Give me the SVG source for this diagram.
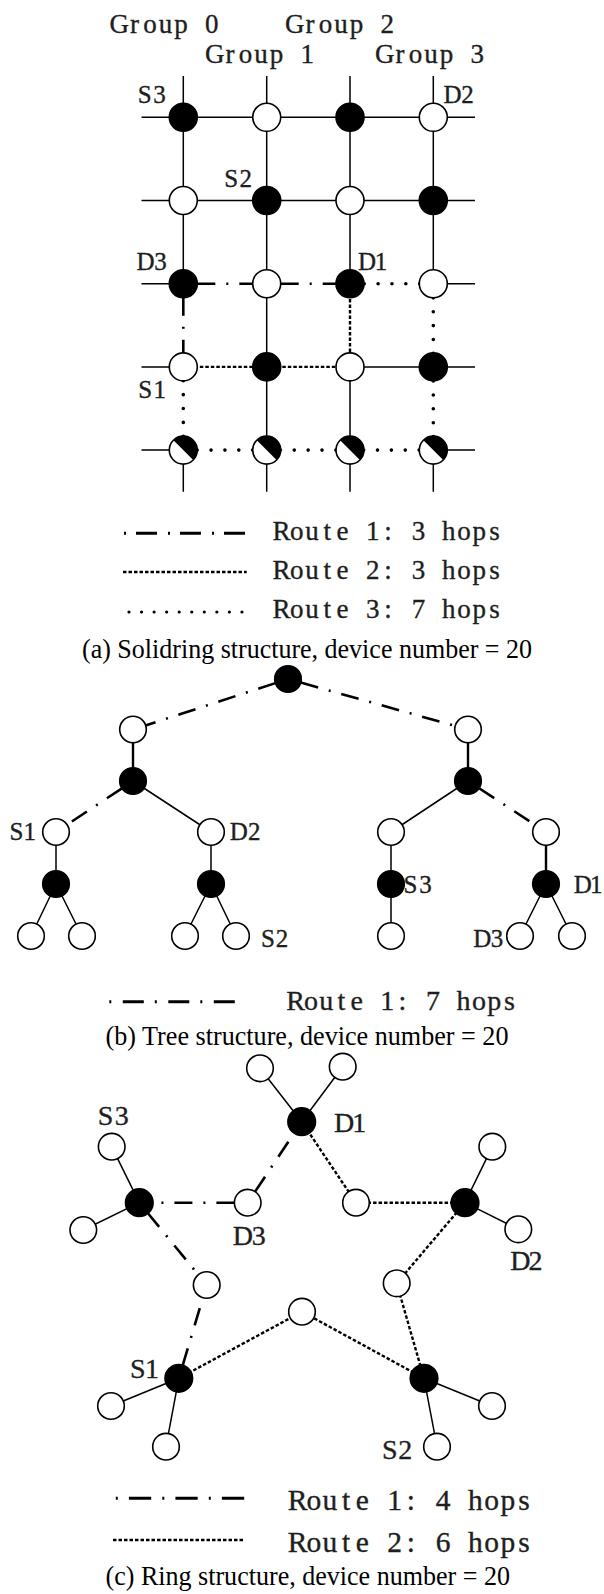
<svg xmlns="http://www.w3.org/2000/svg" xmlns:xlink="http://www.w3.org/1999/xlink" width="604" height="1594" viewBox="0 0 604 1594">
  <style>
    .ln { stroke: #000; stroke-width: 1.5; fill: none; }
    .thick { stroke: #000; stroke-width: 2.4; fill: none; }
    .r1 { stroke: #000; stroke-width: 2.6; fill: none; stroke-dasharray: 18 11 2 11; }
    .r1g { stroke-dashoffset: -14; }
    .r1t { stroke-dashoffset: -13.3; }
    .r2 { stroke: #000; stroke-width: 2.4; fill: none; stroke-dasharray: 3.5 2; }
    .r3 { stroke: #000; stroke-width: 3.6; fill: none; stroke-linecap: round; stroke-dasharray: 0 13.87; }
    .nw { fill: #fff; stroke: #000; stroke-width: 1.6; }
    .nb { fill: #000; stroke: #000; stroke-width: 1.6; }
    /* fixed-pitch serif lettering: one glyph per cell, centred on the cell */
    .mt { font-family: "Liberation Serif", "Times New Roman", serif; text-anchor: middle; fill: #1e1e1e; stroke: #1e1e1e; stroke-width: 0.35; }
    .cap { font-family: "Liberation Serif", "Times New Roman", serif; font-size: 27px; fill: #000; }
  </style>
  <defs>
    <!-- grid device whose upper-right half is filled -->
    <g id="half">
      <circle r="14" fill="#fff"/>
      <path d="M-9.9,-9.9 A14,14 0 0 1 9.9,9.9 Z" fill="#000"/>
      <circle r="14" fill="none" stroke="#000" stroke-width="1.6"/>
    </g>
  </defs>

  <!-- ===================== (a) Solidring ===================== -->
  <g id="group-labels">
    <text class="mt" font-size="27" y="33.3" x="119.2 134.6 150.1 165.5 180.9 196.4 211.8">Group 0</text>
    <text class="mt" font-size="27" y="33.3" x="294.7 310.1 325.6 341.0 356.4 371.9 387.3">Group 2</text>
    <text class="mt" font-size="27" y="63.3" x="214.7 230.1 245.6 261.0 276.4 291.9 307.3">Group 1</text>
    <text class="mt" font-size="27" y="63.3" x="384.7 400.1 415.6 431.0 446.4 461.9 477.3">Group 3</text>
  </g>

  <g id="grid-connectors">
    <!-- plain links -->
    <path class="ln" d="M141.5,117.3 H475 M141.5,200.5 H475
      M141.5,283.7 H183.3 M433.3,283.7 H475
      M141.5,366.9 H183.3 M350,366.9 H475
      M141.5,450.1 H183.3 M433.3,450.1 H475
      M183.3,76 V283.7 M183.3,450.1 V491.7
      M266.7,76 V491.7
      M350,76 V283.7 M350,366.9 V491.7
      M433.3,76 V283.7 M433.3,450.1 V491.7"/>
    <!-- route 1 -->
    <line class="r1 r1g" x1="183.3" y1="283.7" x2="266.7" y2="283.7"/>
    <line class="r1 r1g" x1="266.7" y1="283.7" x2="350" y2="283.7"/>
    <line class="r1 r1g" x1="183.3" y1="283.7" x2="183.3" y2="366.9"/>
    <!-- route 2 -->
    <polyline class="r2" points="183.3,366.9 350,366.9 350,283.7"/>
    <!-- route 3 -->
    <polyline class="r3" points="183.3,366.9 183.3,450.1 433.3,450.1 433.3,283.7 350,283.7"/>
  </g>

  <g id="grid-nodes">
    <circle class="nb" cx="183.3" cy="117.3" r="14"/>
    <circle class="nw" cx="266.7" cy="117.3" r="14"/>
    <circle class="nb" cx="350" cy="117.3" r="14"/>
    <circle class="nw" cx="433.3" cy="117.3" r="14"/>
    <circle class="nw" cx="183.3" cy="200.5" r="14"/>
    <circle class="nb" cx="266.7" cy="200.5" r="14"/>
    <circle class="nw" cx="350" cy="200.5" r="14"/>
    <circle class="nb" cx="433.3" cy="200.5" r="14"/>
    <circle class="nb" cx="183.3" cy="283.7" r="14"/>
    <circle class="nw" cx="266.7" cy="283.7" r="14"/>
    <circle class="nb" cx="350" cy="283.7" r="14"/>
    <circle class="nw" cx="433.3" cy="283.7" r="14"/>
    <circle class="nw" cx="183.3" cy="366.9" r="14"/>
    <circle class="nb" cx="266.7" cy="366.9" r="14"/>
    <circle class="nw" cx="350" cy="366.9" r="14"/>
    <circle class="nb" cx="433.3" cy="366.9" r="14"/>
    <use xlink:href="#half" x="183.3" y="450.1"/>
    <use xlink:href="#half" x="266.7" y="450.1"/>
    <use xlink:href="#half" x="350" y="450.1"/>
    <use xlink:href="#half" x="433.3" y="450.1"/>
  </g>

  <g id="grid-labels">
    <text class="mt" font-size="25" y="103" x="144.6 159.4">S3</text>
    <text class="mt" font-size="25" y="103" x="452.5 467.5">D2</text>
    <text class="mt" font-size="25" y="186.7" x="231.2 245.8">S2</text>
    <text class="mt" font-size="25" y="270" x="145.5 160.5">D3</text>
    <text class="mt" font-size="25" y="270" x="367 381">D1</text>
    <text class="mt" font-size="25" y="398" x="145.2 159.8">S1</text>
  </g>

  <g id="legend-a">
    <line x1="124" y1="533.3" x2="247" y2="533.3" stroke="#000" stroke-width="3" stroke-dasharray="2 10 21 11"/>
    <line x1="123" y1="572" x2="246.7" y2="572" class="r2"/>
    <line x1="129" y1="612" x2="242" y2="612" stroke="#000" stroke-width="3.2" stroke-linecap="round" stroke-dasharray="0 12.55"/>
    <text class="mt" font-size="27" y="540" x="281.6 296.8 312.0 327.2 342.4 357.6 372.8 388.0 403.2 418.4 433.6 448.8 464.0 479.2 494.4">Route 1: 3 hops</text>
    <text class="mt" font-size="27" y="578.5" x="281.6 296.8 312.0 327.2 342.4 357.6 372.8 388.0 403.2 418.4 433.6 448.8 464.0 479.2 494.4">Route 2: 3 hops</text>
    <text class="mt" font-size="27" y="618" x="281.6 296.8 312.0 327.2 342.4 357.6 372.8 388.0 403.2 418.4 433.6 448.8 464.0 479.2 494.4">Route 3: 7 hops</text>
  </g>
  <text id="caption-a" class="cap" x="82" y="658" textLength="450" lengthAdjust="spacingAndGlyphs">(a) Solidring structure, device number = 20</text>

  <!-- ===================== (b) Tree ===================== -->
  <g id="tree-connectors">
    <path class="ln" d="M133,781 L211,832 M468,781 L391,832
      M56,832 V884 M211,832 V884 M391,832 V884
      M56,884 L31,936 M56,884 L82,936
      M211,884 L185,936 M211,884 L236,936
      M391,884 V936
      M546,884 L520,936 M546,884 L572,936"/>
    <path class="thick" d="M133,729.5 V781 M468,729.5 V781 M546,832 V884"/>
    <line class="r1 r1t" x1="288" y1="679" x2="133" y2="729.5"/>
    <line class="r1 r1t" x1="288" y1="679" x2="468" y2="729.5"/>
    <line class="r1 r1t" x1="133" y1="781" x2="56" y2="832"/>
    <line class="r1 r1t" x1="468" y1="781" x2="546" y2="832"/>
  </g>

  <g id="tree-nodes">
    <circle class="nb" cx="288" cy="679" r="13.3"/>
    <circle class="nw" cx="133" cy="729.5" r="13.3"/>
    <circle class="nw" cx="468" cy="729.5" r="13.3"/>
    <circle class="nb" cx="133" cy="781" r="13.3"/>
    <circle class="nb" cx="468" cy="781" r="13.3"/>
    <circle class="nw" cx="56" cy="832" r="13.3"/>
    <circle class="nw" cx="211" cy="832" r="13.3"/>
    <circle class="nw" cx="391" cy="832" r="13.3"/>
    <circle class="nw" cx="546" cy="832" r="13.3"/>
    <circle class="nb" cx="56" cy="884" r="13.3"/>
    <circle class="nb" cx="211" cy="884" r="13.3"/>
    <circle class="nb" cx="391" cy="884" r="13.3"/>
    <circle class="nb" cx="546" cy="884" r="13.3"/>
    <circle class="nw" cx="31" cy="936" r="13.3"/>
    <circle class="nw" cx="82" cy="936" r="13.3"/>
    <circle class="nw" cx="185" cy="936" r="13.3"/>
    <circle class="nw" cx="236" cy="936" r="13.3"/>
    <circle class="nw" cx="391" cy="936" r="13.3"/>
    <circle class="nw" cx="520" cy="936" r="13.3"/>
    <circle class="nw" cx="572" cy="936" r="13.3"/>
  </g>

  <g id="tree-labels">
    <text class="mt" font-size="25" y="840" x="16.4 29.8">S1</text>
    <text class="mt" font-size="25" y="840" x="238.8 254.2">D2</text>
    <text class="mt" font-size="25" y="893" x="410.5 425.5">S3</text>
    <text class="mt" font-size="25" y="893" x="582.8 596.2">D1</text>
    <text class="mt" font-size="25" y="947" x="268 282">S2</text>
    <text class="mt" font-size="25" y="947" x="482.4 497.1">D3</text>
  </g>

  <g id="legend-b">
    <line x1="109.3" y1="1001.7" x2="234.8" y2="1001.7" stroke="#000" stroke-width="3" stroke-dasharray="2 11.5 21 11"/>
    <text class="mt" font-size="28" y="1010" x="295.6 310.9 326.2 341.5 356.7 372.0 387.3 402.5 417.8 433.1 448.3 463.6 478.9 494.2 509.4">Route 1: 7 hops</text>
  </g>
  <text id="caption-b" class="cap" x="105.5" y="1045" textLength="403" lengthAdjust="spacingAndGlyphs">(b) Tree structure, device number = 20</text>

  <!-- ===================== (c) Ring ===================== -->
  <g id="ring-connectors">
    <path class="ln" d="M301.7,1121.7 L260,1068.3 M301.7,1121.7 L342.7,1066.7
      M139.3,1202.7 L111.7,1146.7 M139.3,1202.7 L83.3,1230
      M465,1202.7 L492.3,1146.7 M465,1202.7 L518.3,1229.3
      M178.8,1378.3 L111,1406 M178.8,1378.3 L166,1446.7
      M424,1378.3 L492,1406 M424,1378.3 L437,1446.7"/>
    <!-- route 1 -->
    <line class="r1 r1t" x1="178.8" y1="1378.3" x2="206.7" y2="1285"/>
    <line class="r1 r1t" x1="139.3" y1="1202.7" x2="206.7" y2="1285"/>
    <line class="r1 r1t" x1="247.7" y1="1202.7" x2="139.3" y2="1202.7"/>
    <line class="r1 r1t" x1="247.7" y1="1202.7" x2="301.7" y2="1121.7"/>
    <!-- route 2 -->
    <polyline class="r2" points="178.8,1378.3 302,1311.7 424,1378.3 396.7,1283.3 465,1202.7 356,1202.7 301.7,1121.7"/>
  </g>

  <g id="ring-nodes">
    <circle class="nb" cx="301.7" cy="1121.7" r="13.8"/>
    <circle class="nw" cx="260" cy="1068.3" r="13.3"/>
    <circle class="nw" cx="342.7" cy="1066.7" r="13.3"/>
    <circle class="nw" cx="111.7" cy="1146.7" r="13.3"/>
    <circle class="nb" cx="139.3" cy="1202.7" r="13.8"/>
    <circle class="nw" cx="83.3" cy="1230" r="13.3"/>
    <circle class="nw" cx="247.7" cy="1202.7" r="13.3"/>
    <circle class="nw" cx="356" cy="1202.7" r="13.3"/>
    <circle class="nb" cx="465" cy="1202.7" r="13.8"/>
    <circle class="nw" cx="492.3" cy="1146.7" r="13.3"/>
    <circle class="nw" cx="518.3" cy="1229.3" r="13.3"/>
    <circle class="nw" cx="206.7" cy="1285" r="13.3"/>
    <circle class="nw" cx="396.7" cy="1283.3" r="13.3"/>
    <circle class="nw" cx="302" cy="1311.7" r="13.3"/>
    <circle class="nb" cx="178.8" cy="1378.3" r="13.8"/>
    <circle class="nb" cx="424" cy="1378.3" r="13.8"/>
    <circle class="nw" cx="111" cy="1406" r="13.3"/>
    <circle class="nw" cx="166" cy="1446.7" r="13.3"/>
    <circle class="nw" cx="492" cy="1406" r="13.3"/>
    <circle class="nw" cx="437" cy="1446.7" r="13.3"/>
  </g>

  <g id="ring-labels">
    <text class="mt" font-size="28" y="1125" x="105.5 121.8">S3</text>
    <text class="mt" font-size="28" y="1131.7" x="344.2 359.2">D1</text>
    <text class="mt" font-size="28" y="1245" x="242.9 258.8">D3</text>
    <text class="mt" font-size="28" y="1270" x="520.4 535.6">D2</text>
    <text class="mt" font-size="28" y="1378" x="137.7 151.9">S1</text>
    <text class="mt" font-size="28" y="1459" x="389.8 405.2">S2</text>
  </g>

  <g id="legend-c">
    <line x1="115.8" y1="1498.3" x2="244.2" y2="1498.3" stroke="#000" stroke-width="3" stroke-dasharray="2 11.1 22.3 11.1"/>
    <line x1="113" y1="1540" x2="244" y2="1540" class="r2"/>
    <text class="mt" font-size="29.5" y="1510" x="297.6 313.8 329.9 346.1 362.3 378.4 394.6 410.8 426.9 443.1 459.3 475.4 491.6 507.8 523.9">Route 1: 4 hops</text>
    <text class="mt" font-size="29.5" y="1551.7" x="297.6 313.8 329.9 346.1 362.3 378.4 394.6 410.8 426.9 443.1 459.3 475.4 491.6 507.8 523.9">Route 2: 6 hops</text>
  </g>
  <text id="caption-c" class="cap" x="105.5" y="1585" textLength="404.5" lengthAdjust="spacingAndGlyphs">(c) Ring structure, device number = 20</text>
</svg>
